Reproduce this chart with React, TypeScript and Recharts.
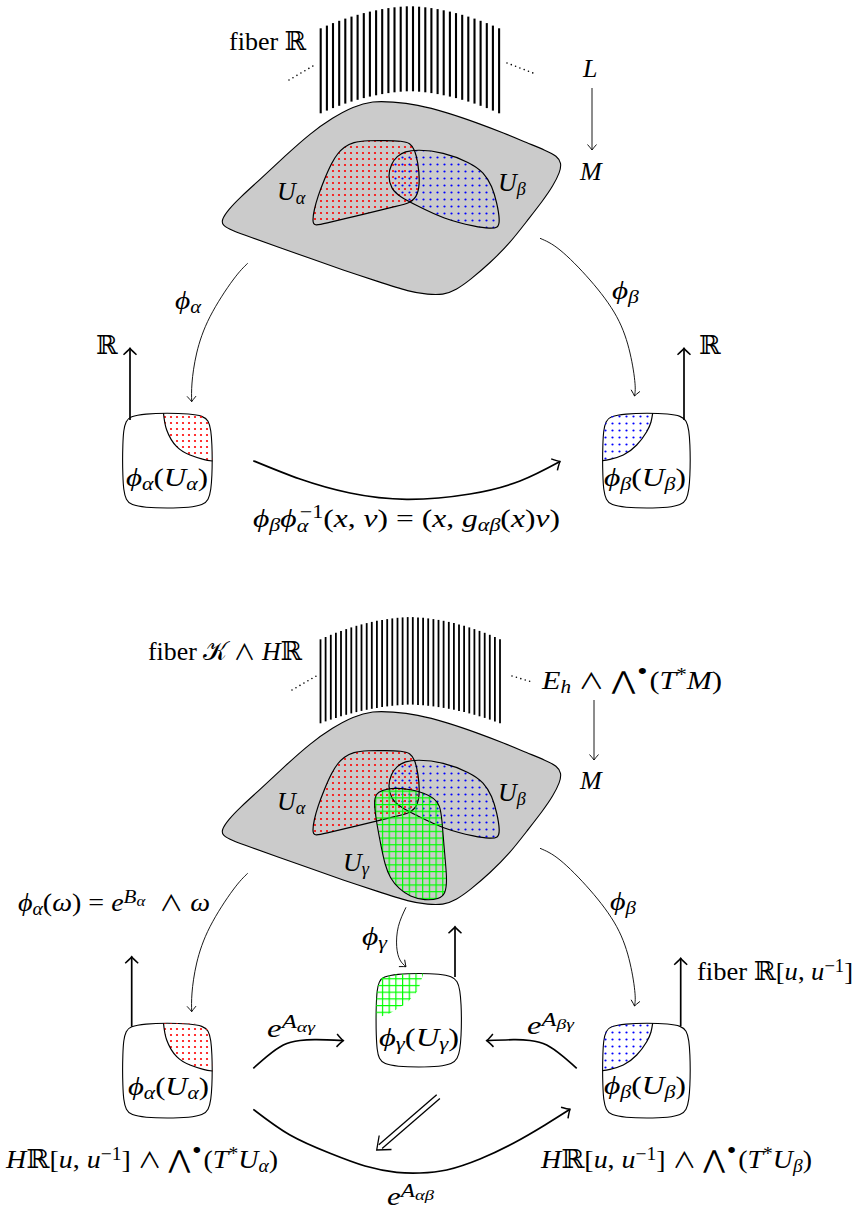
import React from 'react';
import { ComposedChart, Line, Scatter, XAxis, YAxis } from 'recharts';

type Pair = [number, number];
const toPts = (a: Pair[]) => a.map(([x, y]) => ({ x, y }));

const FONT = "'Liberation Serif', 'DejaVu Serif', 'DejaVu Sans', serif";

// ---------- fibers ----------
const topFiberX = [320.7, 326.9, 333.0, 339.2, 345.3, 351.5, 357.6, 363.8, 369.9, 376.1, 382.2, 388.4, 394.5, 400.7, 406.8, 413.0, 419.1, 425.3, 431.4, 437.6, 443.7, 449.9, 456.0, 462.2, 468.3, 474.5, 480.6, 486.8, 492.9, 499.1];
const topFiberTop = [28.3, 25.6, 23.1, 20.8, 18.6, 16.6, 14.8, 13.1, 11.6, 10.3, 9.1, 8.1, 7.3, 6.7, 6.3, 6.3, 6.7, 7.3, 8.1, 9.1, 10.3, 11.6, 13.1, 14.8, 16.6, 18.6, 20.8, 23.1, 25.6, 28.3];
const topFiberBottom = [113.3, 110.6, 108.1, 105.8, 103.6, 101.6, 99.8, 98.1, 96.6, 95.3, 94.1, 93.1, 92.3, 91.7, 91.3, 91.3, 91.7, 92.3, 93.1, 94.1, 95.3, 96.6, 98.1, 99.8, 101.6, 103.6, 105.8, 108.1, 110.6, 113.3];

const botFiberX = [320.5, 325.6, 330.8, 335.9, 341.0, 346.2, 351.3, 356.4, 361.5, 366.7, 371.8, 376.9, 382.1, 387.2, 392.3, 397.5, 402.6, 407.7, 412.8, 418.0, 423.1, 428.2, 433.4, 438.5, 443.6, 448.8, 453.9, 459.0, 464.1, 469.3, 474.4, 479.5, 484.7, 489.8, 494.9, 500.0];
const botFiberTop = [639.3, 637.0, 634.8, 632.8, 630.9, 629.1, 627.4, 625.8, 624.4, 623.1, 621.9, 620.8, 619.9, 619.1, 618.4, 617.8, 617.4, 617.1, 617.1, 617.4, 617.8, 618.4, 619.1, 619.9, 620.8, 621.9, 623.1, 624.4, 625.8, 627.4, 629.1, 630.9, 632.8, 634.8, 637.0, 639.3];
const botFiberBottom = [723.3, 721.4, 719.6, 717.9, 716.3, 714.8, 713.4, 712.1, 710.9, 709.8, 708.8, 707.9, 707.1, 706.4, 705.8, 705.3, 704.9, 704.6, 704.6, 704.9, 705.3, 705.8, 706.4, 707.1, 707.9, 708.8, 709.8, 710.9, 712.1, 713.4, 714.8, 716.3, 717.9, 719.6, 721.4, 723.3];

// ---------- shared shapes (top-panel coordinates; redrawn on shifted axis for lower panel) ----------
const grayBase: Pair[] = [[373, 101], [392, 101.8], [417, 104.5], [447, 112.5], [477, 122.8], [505, 133.5], [527, 142.8], [546, 150.5], [557, 156], [561.5, 163], [560, 172], [553, 186], [543, 200.5], [527, 221], [510, 243], [490, 263], [470, 280], [456, 290], [443, 295], [428, 294.5], [410, 292], [377, 281.2], [343, 270], [310, 258.3], [277, 246.7], [250, 237], [232, 230.5], [222.5, 225.5], [221.5, 220], [228, 210], [240, 197.5], [260, 179.5], [285, 156], [310, 133.5], [333, 117.5], [353, 106.5]];
const uAlpha: Pair[] = [[344, 147], [353, 142], [368, 140.5], [385, 140.5], [402, 141], [410, 143], [415, 150], [418, 163], [419.8, 180], [418, 195], [411, 203], [395, 206.5], [376.7, 211], [350, 217.5], [325, 223.5], [314, 226], [312.5, 221], [314, 210], [318, 196], [324, 180], [332, 162], [338, 153]];
const uBeta: Pair[] = [[388, 176], [391, 164], [397, 156], [405, 151.5], [417, 149.5], [443, 152], [470, 162.5], [484, 172.5], [492, 186], [497, 203], [500, 221], [498, 228], [490, 228.5], [476.7, 227], [443.3, 218.8], [416.7, 205.5], [400, 197], [391, 188.5]];
const leftBox: Pair[] = [[130, 416.5], [145, 413.8], [167, 413], [190, 413.8], [203, 416], [208.5, 420.5], [211, 430], [212, 445], [212.3, 460], [212, 475], [211, 490], [208.5, 500], [203, 505], [190, 507.5], [167, 508.3], [145, 507.5], [131, 505], [126, 500], [123.5, 490], [122.8, 475], [122.5, 460], [122.8, 445], [123.5, 430], [126, 421]];
const rightBox: Pair[] = [[610, 416.5], [625, 413.8], [647, 413], [669, 413.8], [681, 416], [686.5, 420.5], [689, 430], [690, 445], [690.3, 460], [690, 475], [689, 490], [686.5, 500], [681, 505], [669, 507.5], [647, 508.3], [625, 507.5], [611, 505], [606, 500], [603.5, 490], [602.8, 475], [602.5, 460], [602.8, 445], [603.5, 430], [606, 421]];
const redCorner: Pair[] = [[163.5, 413.2], [180, 413.3], [195, 413.8], [203, 416], [208.5, 420.5], [211, 430], [212, 445], [212.3, 461], [203.3, 459.3], [190, 455], [176.7, 446.7], [169, 437], [166.7, 430], [164.5, 421]];
const redArc: Pair[] = [[163.5, 413.2], [166.7, 430], [176.7, 446.7], [190, 455], [203.3, 459.3], [212.5, 461]];
const blueCorner: Pair[] = [[652.7, 413.2], [640, 413.3], [625, 413.8], [610, 416.5], [606, 421], [603.5, 430], [602.8, 445], [602.6, 460.7], [610, 459.3], [623.3, 455], [636.7, 445], [646.7, 431.7], [651, 422]];
const blueArc: Pair[] = [[652.7, 413.2], [651, 422], [646.7, 431.7], [636.7, 445], [623.3, 455], [610, 459.3], [602.6, 460.7]];
const phiAlphaArc: Pair[] = [[247.7, 263.3], [233, 280], [210, 316.7], [196.7, 353], [192, 383], [191.7, 401.7]];
const phiBetaArc: Pair[] = [[540, 238.3], [560, 250], [590, 280], [616.7, 316.7], [630, 353], [635, 383.3], [634.5, 396]];

// ---------- top panel only ----------
const transArrow: Pair[] = [[253.3, 460.7], [300, 479], [350, 493], [406.7, 499.3], [470, 494], [520, 481], [560, 461.5]];
const leftUpTop: Pair[] = [[130, 420], [130, 348.3]];
const rightUpTop: Pair[] = [[684, 420], [684, 348.3]];
const lmTop: Pair[] = [[592, 88], [592, 150]];
const dotsTopL: Pair[] = [[289, 80], [313, 66]];
const dotsTopR: Pair[] = [[507, 63], [533, 73]];

// ---------- lower panel only ----------
const uGamma: Pair[] = [[378, 792], [387, 788.8], [397, 788], [411, 789.5], [424, 793], [434, 798], [440, 805], [442, 820], [443.5, 840], [445.5, 863], [447, 880], [445.5, 894], [439, 899], [425, 900.5], [410, 896.5], [399, 889], [390, 878], [385, 865], [381, 846], [377, 825], [374.5, 808], [374.5, 797]];
const midBox: Pair[] = [[383, 976.8], [397, 974], [419, 973.3], [440, 974], [452, 976.5], [457.5, 981], [460, 990], [461.2, 1005], [461.5, 1020], [461.2, 1035], [460, 1050], [457.5, 1059], [452, 1064], [440, 1066.5], [419, 1067.3], [397, 1066.5], [384, 1064], [379, 1059], [377, 1050], [376.2, 1035], [376, 1020], [376.2, 1005], [377, 990], [379, 981.5]];
const greenCorner: Pair[] = [[379, 981.5], [383, 976.8], [397, 974], [423.3, 973.5], [418.3, 990], [406.7, 1003.3], [390, 1013.3], [376.5, 1018.3], [376.2, 1005], [377, 990]];
const phiGammaArc: Pair[] = [[406, 907.3], [398.3, 926.7], [396.7, 946.7], [400, 960], [406, 966.7]];
const arrowAG: Pair[] = [[253.3, 1068.3], [266.7, 1056.7], [283.3, 1045], [300, 1040.5], [316.7, 1039.7], [343.3, 1040.7]];
const arrowBG: Pair[] = [[576.7, 1068.3], [563.3, 1056.7], [546.7, 1045], [530, 1040.5], [513.3, 1039.7], [486.7, 1040.7]];
const arrowAB: Pair[] = [[253.3, 1109.3], [290, 1135], [330, 1153.3], [365, 1166], [396.7, 1172.3], [420, 1173], [446.7, 1170], [480, 1159], [513.3, 1143.3], [545, 1125], [570, 1109.3]];
const dblLineA: Pair[] = [[439.9, 1098.6], [382.1, 1148.6]];
const dblLineB: Pair[] = [[436.7, 1094.8], [378.8, 1144.8]];
const dblHead: Pair[] = [[391.5, 1149.5], [376.7, 1150], [379.2, 1135.5]];
const midUp: Pair[] = [[455, 977], [455, 926.7]];
const leftUpBot: Pair[] = [[131.7, 1026.7], [131.7, 956.7]];
const rightUpBot: Pair[] = [[680.7, 1026], [680.7, 958.3]];
const lmBot: Pair[] = [[594, 700], [594, 760]];
const dotsBotL: Pair[] = [[292, 690], [318, 675]];
const dotsBotR: Pair[] = [[512, 676], [532, 682]];

// ---------- labels ----------
type Run = [string, string, number?, number?];
const LABEL_RUNS: Record<string, Run[]> = {
  fiberR: [['fiber\u00a0', 'r'], ['ℝ', 'r']],
  L: [['L', 'i']],
  M: [['M', 'i']],
  Ua: [['U', 'i'], ['α', 'sb']],
  Ub: [['U', 'i'], ['β', 'sb']],
  Ug: [['U', 'i'], ['γ', 'sb']],
  pa: [['ϕ', 'i'], ['α', 'sb']],
  pb: [['ϕ', 'i'], ['β', 'sb']],
  pg: [['ϕ', 'i'], ['γ', 'sb']],
  R: [['ℝ', 'r']],
  trans: [['ϕ', 'i'], ['β', 'sb'], ['ϕ', 'i'], ['α', 'sb', 0, 0.2], ['−1', 'spr', -7, -0.36], ['(', 'r'], ['x', 'i'], [',\u00a0', 'r'], ['v', 'i'], [')\u00a0=\u00a0(', 'r'], ['x', 'i'], [',\u00a0', 'r'], ['g', 'i'], ['αβ', 'sb'], ['(', 'r'], ['x', 'i'], [')', 'r'], ['v', 'i'], [')', 'r']],
  paUa: [['ϕ', 'i'], ['α', 'sb'], ['(', 'r'], ['U', 'i'], ['α', 'sb'], [')', 'r']],
  pbUb: [['ϕ', 'i'], ['β', 'sb'], ['(', 'r'], ['U', 'i'], ['β', 'sb'], [')', 'r']],
  pgUg: [['ϕ', 'i'], ['γ', 'sb'], ['(', 'r'], ['U', 'i'], ['γ', 'sb'], [')', 'r']],
  fiberKH: [['fiber\u00a0', 'r'], ['𝒦', 'r'], ['\u00a0', 'r'], ['∧', 'w'], ['\u00a0', 'r'], ['H', 'i'], ['ℝ', 'r']],
  Eh: [['E', 'i'], ['h', 'sb'], ['\u00a0', 'r'], ['∧', 'w'], ['\u00a0', 'r'], ['⋀', 'big'], ['•', 'bul'], ['(', 'r'], ['T', 'i'], ['*', 'spr'], ['M', 'i'], [')', 'r']],
  pw: [['ϕ', 'i'], ['α', 'sb'], ['(', 'r'], ['ω', 'i'], [')\u00a0=\u00a0', 'r'], ['e', 'i'], ['B', 'sp'], ['α', 'ss'], ['\u00a0\u00a0', 'r'], ['∧', 'w'], ['\u00a0', 'r'], ['ω', 'i']],
  eAag: [['e', 'i'], ['A', 'sp'], ['αγ', 'ss']],
  eAbg: [['e', 'i'], ['A', 'sp'], ['βγ', 'ss']],
  eAab: [['e', 'i'], ['A', 'sp'], ['αβ', 'ss']],
  fiberRu: [['fiber\u00a0', 'r'], ['ℝ', 'r'], ['[', 'r'], ['u', 'i'], [',\u00a0', 'r'], ['u', 'i'], ['−1', 'spr'], [']', 'r']],
  HRa: [['H', 'i'], ['ℝ', 'r'], ['[', 'r'], ['u', 'i'], [',\u00a0', 'r'], ['u', 'i'], ['−1', 'spr'], [']\u00a0', 'r'], ['∧', 'w'], ['\u00a0', 'r'], ['⋀', 'big'], ['•', 'bul'], ['(', 'r'], ['T', 'i'], ['*', 'spr'], ['U', 'i'], ['α', 'sb'], [')', 'r']],
  HRb: [['H', 'i'], ['ℝ', 'r'], ['[', 'r'], ['u', 'i'], [',\u00a0', 'r'], ['u', 'i'], ['−1', 'spr'], [']\u00a0', 'r'], ['∧', 'w'], ['\u00a0', 'r'], ['⋀', 'big'], ['•', 'bul'], ['(', 'r'], ['T', 'i'], ['*', 'spr'], ['U', 'i'], ['β', 'sb'], [')', 'r']],
};

const labelKey = ['fiberR', 'L', 'M', 'Ua', 'Ub', 'pa', 'pb', 'R', 'R', 'paUa', 'pbUb', 'trans', 'fiberKH', 'Eh', 'M', 'Ua', 'Ub', 'Ug', 'pw', 'pb', 'pg', 'fiberRu', 'eAag', 'eAbg', 'pgUg', 'paUa', 'pbUb', 'HRa', 'HRb', 'eAab'];
const labelX = [229, 583, 580, 277, 498, 175, 612, 96, 699, 126, 604, 253, 148, 542, 580, 277, 498, 343, 18, 610, 362, 697, 267, 527, 379, 128, 604, 6, 541, 387];
const labelY = [50, 77, 180, 200, 191, 308.5, 299, 354, 354, 486, 486, 527, 660, 689, 789, 810, 801, 870.5, 911, 910, 945, 980, 1036.7, 1034, 1045.5, 1095, 1094, 1168, 1168, 1205];
// rendered text widths (0 = natural width)
const labelW = [0, 0, 0, 0, 0, 26, 27, 0, 0, 82, 82, 307, 154, 180, 0, 0, 0, 0, 192, 26, 25, 156, 48, 47, 80, 81, 82, 272, 271, 47];
const labelData = labelKey.map((k, i) => ({ x: labelX[i], y: labelY[i], k, w: labelW[i] }));

const SIZE = 26;

function MathText({ x, y, runs, w }: { x: number; y: number; runs: Run[]; w: number }) {
  let cur = 0;
  const kids = runs.map((r, i) => {
    const [t, st, dx, offOverride] = r;
    let fs = SIZE;
    let off = 0;
    let it = false;
    let fam: string | undefined;
    if (st === 'i') it = true;
    else if (st === 'sb') { fs = SIZE * 0.7; off = SIZE * 0.16; it = true; }
    else if (st === 'sp') { fs = SIZE * 0.75; off = -SIZE * 0.32; it = true; }
    else if (st === 'spr') { fs = SIZE * 0.7; off = -SIZE * 0.3; }
    else if (st === 'ss') { fs = SIZE * 0.6; off = -SIZE * 0.2; it = true; }
    else if (st === 'bul') { fs = SIZE * 0.8; off = -SIZE * 0.38; fam = "'DejaVu Serif', serif"; }
    else if (st === 'w') { fs = SIZE * 0.85; fam = "'Noto Sans CJK JP', 'DejaVu Serif', sans-serif"; }
    else if (st === 'big') { fs = SIZE * 0.95; fam = "'DejaVu Serif', 'DejaVu Sans', serif"; }
    if (offOverride !== undefined) off = SIZE * offOverride;
    const dy = off - cur;
    cur = off;
    return (
      <tspan key={i} dx={dx ?? 0} dy={dy} fontSize={fs} fontStyle={it ? 'italic' : 'normal'} fontFamily={fam}>
        {t}
      </tspan>
    );
  });
  const extra: any = w > 0 ? { textLength: w, lengthAdjust: 'spacingAndGlyphs' } : {};
  return (
    <text x={x} y={y} fontFamily={FONT} fontSize={SIZE} fill="#000" style={{ whiteSpace: 'pre' }} {...extra}>
      {kids}
    </text>
  );
}

const LabelShape = (props: any) => {
  const { cx, cy, payload } = props;
  if (cx == null || cy == null) return <g />;
  return <MathText x={cx} y={cy} runs={LABEL_RUNS[payload.k]} w={payload.w} />;
};

type Opt = { axis?: string; type?: any; stroke?: string; w?: number; cls?: string; dash?: string; cap?: any };
const seg = (key: string, data: Pair[], o: Opt = {}) => (
  <Line
    key={key}
    data={toPts(data)}
    dataKey="y"
    xAxisId="x"
    yAxisId={o.axis ?? 'a'}
    type={o.type ?? 'linear'}
    stroke={o.stroke ?? '#000'}
    strokeWidth={o.w ?? 1}
    strokeDasharray={o.dash}
    strokeLinecap={o.cap}
    className={o.cls}
    dot={false}
    activeDot={false}
    isAnimationActive={false}
    legendType="none"
  />
);

const css = `
body{margin:0;background:#fff}
.f-gray .recharts-line-curve{fill:#cbcbcb}
.f-red .recharts-line-curve{fill:url(#pRed)}
.f-blue .recharts-line-curve{fill:url(#pBlue)}
.f-green .recharts-line-curve{fill:url(#pGreen)}
.m-thin .recharts-line-curve{marker-end:url(#mThin)}
.m-thick .recharts-line-curve{marker-end:url(#mThick)}
`;

function sharedPanel(axis: string) {
  return [
    seg(`gray-${axis}`, grayBase, { axis, type: 'basisClosed', w: 1.1, cls: 'f-gray' }),
    seg(`ua-fill-${axis}`, uAlpha, { axis, type: 'basisClosed', stroke: 'none', cls: 'f-red' }),
    seg(`ub-fill-${axis}`, uBeta, { axis, type: 'basisClosed', stroke: 'none', cls: 'f-blue' }),
    seg(`ua-${axis}`, uAlpha, { axis, type: 'basisClosed', w: 1.2 }),
    seg(`ub-${axis}`, uBeta, { axis, type: 'basisClosed', w: 1.2 }),
    seg(`lbox-${axis}`, leftBox, { axis, type: 'basisClosed', w: 1.1 }),
    seg(`rbox-${axis}`, rightBox, { axis, type: 'basisClosed', w: 1.1 }),
    seg(`rc-${axis}`, redCorner, { axis, type: 'linearClosed', stroke: 'none', cls: 'f-red' }),
    seg(`ra-${axis}`, redArc, { axis, type: 'natural', w: 1.2 }),
    seg(`bc-${axis}`, blueCorner, { axis, type: 'linearClosed', stroke: 'none', cls: 'f-blue' }),
    seg(`ba-${axis}`, blueArc, { axis, type: 'natural', w: 1.2 }),
    seg(`pa-${axis}`, phiAlphaArc, { axis, type: 'natural', w: 0.9, cls: 'm-thin' }),
    seg(`pb-${axis}`, phiBetaArc, { axis, type: 'natural', w: 0.9, cls: 'm-thin' }),
  ];
}

export default function App() {
  return (
    <div style={{ width: 865, height: 1212, background: '#fff' }}>
      <style>{css}</style>
      <ComposedChart width={865} height={1212} margin={{ top: 0, right: 0, bottom: 0, left: 0 }}>
        <defs>
          <pattern id="pRed" width="6" height="6" patternUnits="userSpaceOnUse">
            <circle cx="3" cy="3" r="1.1" fill="#ff0000" />
          </pattern>
          <pattern id="pBlue" width="7" height="7" patternUnits="userSpaceOnUse">
            <circle cx="3.5" cy="3.5" r="1.1" fill="#0000ff" />
          </pattern>
          <pattern id="pGreen" width="6.7" height="6.7" patternUnits="userSpaceOnUse">
            <path d="M0 0.6 H6.7 M0.6 0 V6.7" stroke="#00ff00" strokeWidth="1.2" fill="none" />
          </pattern>
          <marker id="mThin" viewBox="-10 -10 20 20" markerWidth="20" markerHeight="20" refX="0" refY="0" orient="auto" markerUnits="userSpaceOnUse">
            <path d="M-5.5,-4.5 Q-1.5,-1 0,0 Q-1.5,1 -5.5,4.5" fill="none" stroke="#000" strokeWidth="0.9" />
          </marker>
          <marker id="mThick" viewBox="-10 -10 20 20" markerWidth="20" markerHeight="20" refX="0" refY="0" orient="auto" markerUnits="userSpaceOnUse">
            <path d="M-6.5,-6.5 Q-2,-1.5 0,0 Q-2,1.5 -6.5,6.5" fill="none" stroke="#000" strokeWidth="1.5" />
          </marker>
        </defs>
        <XAxis xAxisId="x" type="number" dataKey="x" domain={[0, 865]} allowDataOverflow hide />
        <YAxis yAxisId="a" type="number" dataKey="y" domain={[0, 1212]} allowDataOverflow reversed hide />
        <YAxis yAxisId="b" type="number" dataKey="y" domain={[-610, 602]} allowDataOverflow reversed hide />

        {topFiberX.map((x, i) => seg(`tf${i}`, [[x, topFiberTop[i]], [x, topFiberBottom[i]]], { w: 2.1 }))}
        {botFiberX.map((x, i) => seg(`bf${i}`, [[x, botFiberTop[i]], [x, botFiberBottom[i]]], { w: 1.8 }))}
        {seg('dtl', dotsTopL, { w: 1.6, dash: '0 4.6', cap: 'round' })}
        {seg('dtr', dotsTopR, { w: 1.6, dash: '0 4.6', cap: 'round' })}
        {seg('dbl', dotsBotL, { w: 1.6, dash: '0 4.6', cap: 'round' })}
        {seg('dbr', dotsBotR, { w: 1.6, dash: '0 4.6', cap: 'round' })}

        {sharedPanel('a')}
        {sharedPanel('b')}

        {seg('ug-fill', uGamma, { type: 'basisClosed', stroke: 'none', cls: 'f-green' })}
        {seg('ug', uGamma, { type: 'basisClosed', w: 1.1 })}
        {seg('mbox', midBox, { type: 'basisClosed', w: 1.1 })}
        {seg('gc', greenCorner, { type: 'linearClosed', stroke: 'none', cls: 'f-green' })}

        {seg('trans', transArrow, { type: 'natural', w: 1.7, cls: 'm-thick' })}
        {seg('lut', leftUpTop, { w: 1.7, cls: 'm-thick' })}
        {seg('rut', rightUpTop, { w: 1.7, cls: 'm-thick' })}
        {seg('lmt', lmTop, { w: 0.9, cls: 'm-thin' })}

        {seg('pg', phiGammaArc, { type: 'natural', w: 0.9, cls: 'm-thin' })}
        {seg('aag', arrowAG, { type: 'natural', w: 1.7, cls: 'm-thick' })}
        {seg('abg', arrowBG, { type: 'natural', w: 1.7, cls: 'm-thick' })}
        {seg('aab', arrowAB, { type: 'natural', w: 1.7, cls: 'm-thick' })}
        {seg('dla', dblLineA, { w: 1.3 })}
        {seg('dlb', dblLineB, { w: 1.3 })}
        {seg('dh', dblHead, { w: 1.3 })}
        {seg('mu', midUp, { w: 1.7, cls: 'm-thick' })}
        {seg('lub', leftUpBot, { w: 1.7, cls: 'm-thick' })}
        {seg('rub', rightUpBot, { w: 1.7, cls: 'm-thick' })}
        {seg('lmb', lmBot, { w: 0.9, cls: 'm-thin' })}

        <Scatter
          data={labelData}
          dataKey="y"
          xAxisId="x"
          yAxisId="a"
          shape={LabelShape}
          isAnimationActive={false}
          legendType="none"
        />
      </ComposedChart>
    </div>
  );
}
